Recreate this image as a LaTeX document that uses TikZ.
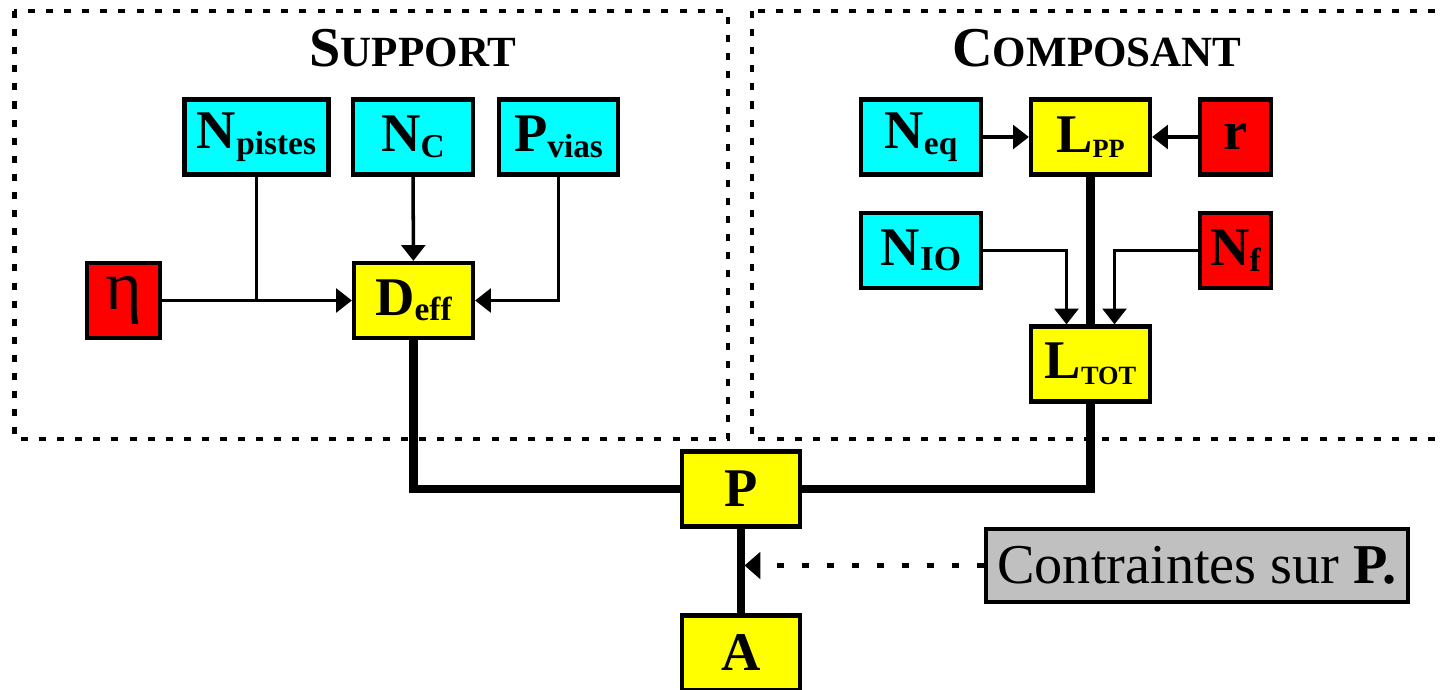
\documentclass[tikz,border=0pt]{standalone}
\usepackage{fontspec}
\setmainfont{Liberation Serif}
\usepackage{tikz}
\usetikzlibrary{arrows.meta,positioning,calc}
\definecolor{incyan}{RGB}{0,255,255}
\definecolor{inred}{RGB}{255,0,0}
\definecolor{calcyel}{RGB}{255,255,0}
\definecolor{notegray}{RGB}{192,192,192}
\newcommand{\bigtxt}{\fontsize{31}{31}\selectfont\bfseries}
\newcommand{\idx}[2][19]{\raisebox{-3.2pt}{\fontsize{#1}{#1}\selectfont #2}}
\newcommand{\fakesc}[2]{#1{\fontsize{24.5}{24.5}\selectfont #2}}
\tikzset{
  varbox/.style={rectangle, draw, line width=2.4pt, inner sep=0pt, font=\bigtxt,
                 minimum height=1.5cm},
  inbox/.style={varbox, fill=incyan},
  fixbox/.style={varbox, fill=inred},
  calcbox/.style={varbox, fill=calcyel},
  notebox/.style={rectangle, draw, line width=2.4pt, fill=notegray, minimum width=8.44cm,
                  minimum height=1.46cm, font=\fontsize{32}{32}\selectfont},
  heading/.style={font=\fontsize{32}{32}\selectfont\bfseries, anchor=base},
  zone/.style={line width=2.3pt, dash pattern=on 4pt off 6.3pt},
  lnk/.style={line width=2pt},
  arr/.style={-{Triangle[length=9pt,width=13.5pt]}, line width=2pt},
  thk/.style={line width=4.6pt},
  dotarr/.style={-{Triangle[length=9pt,width=15pt]}, line width=2.6pt,
                 dash pattern=on 4pt off 10.2pt}
}
\begin{document}
\begin{tikzpicture}
  \useasboundingbox (0,0) rectangle (28.88,-13.8);
  % the two zones
  \draw[zone] (0.29,-0.22) rectangle (14.56,-8.78);
  \draw[zone] (15.04,-0.22) rectangle (29.6,-8.78);
  \node[heading] (tsup) at (8.26,-1.34) {\fakesc{S}{UPPORT}};
  \node[heading] (tcomp) at (21.94,-1.34) {\fakesc{C}{OMPOSANT}};
  % support
  \node[inbox, minimum width=2.88cm] (npistes) at (5.13,-2.74) {N\idx{pistes}};
  \node[inbox, minimum width=2.4cm] (nc) at (8.26,-2.74) {N\idx{C}};
  \node[inbox, minimum width=2.38cm] (pvias) at (11.17,-2.74) {P\idx{vias}};
  \node[fixbox, minimum width=1.46cm] (eta) at (2.47,-6.01) {\fontsize{40}{40}\selectfont\mdseries η};
  \node[calcbox, minimum width=2.38cm] (deff) at (8.27,-6.01) {D\idx{eff}};
  % composant
  \node[inbox, minimum width=2.4cm] (neq) at (18.42,-2.74) {N\idx{eq}};
  \node[calcbox, minimum width=2.38cm] (lpp) at (21.81,-2.74) {L\idx[15]{PP}};
  \node[fixbox, minimum width=1.42cm] (r) at (24.71,-2.74) {r};
  \node[inbox, minimum width=2.4cm] (nio) at (18.42,-5.01) {N\idx[20]{IO}};
  \node[fixbox, minimum width=1.42cm] (nf) at (24.71,-5.01) {N\idx{f}};
  \node[calcbox, minimum width=2.38cm] (ltot) at (21.81,-7.28) {L\idx[15]{TOT}};
  % bottom
  \node[calcbox, minimum width=2.36cm] (p) at (14.82,-9.78) {P};
  \node[calcbox, minimum width=2.36cm] (a) at (14.82,-13.06) {A};
  \node[notebox] (contr) at (23.94,-11.31) {Contraintes sur \textbf{P.}};
  % links
  \draw[lnk] (npistes.south) -- (npistes.south |- eta.east);
  \draw[arr] (eta) -- (deff);
  \draw[arr] (nc) -- (deff);
  \draw[arr] (pvias.south) |- (deff.east);
  \draw[arr] (neq) -- (lpp);
  \draw[arr] (r) -- (lpp);
  \draw[thk] (lpp) -- (ltot);
  \draw[arr] (nio.east) -| ([xshift=-0.48cm]ltot.north);
  \draw[arr] (nf.west) -| ([xshift=0.48cm]ltot.north);
  \draw[thk] (deff.south) |- (p.west);
  \draw[thk] (ltot.south) |- (p.east);
  \draw[line width=4.2pt] (p) -- (a);
  \draw[dotarr] (contr.west) -- ([xshift=2pt]contr.west -| p.south);
\end{tikzpicture}
\end{document}
